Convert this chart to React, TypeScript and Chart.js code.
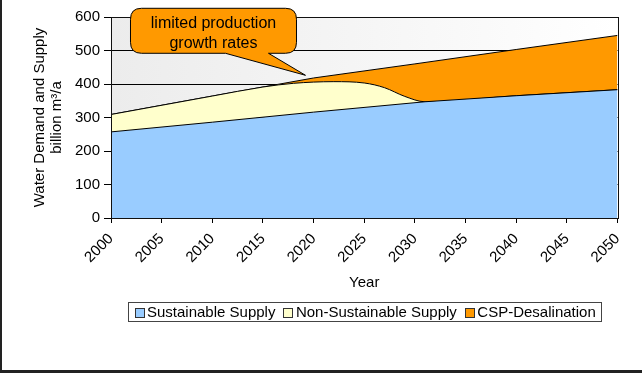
import { useEffect, useRef } from 'react';
import { Chart, registerables } from 'chart.js';

Chart.register(...registerables);

// Stacked supply scenario: each series is stored as the upper edge of its band.
const seriesLabels = ['Sustainable Supply', 'Non-Sustainable Supply', 'CSP-Desalination'];

const sustainableYears = [2000, 2010, 2020, 2031, 2040, 2050];
const sustainableTop = [257, 286, 316, 347, 365, 383];

const nonSustainableYears = [2000, 2010, 2015, 2018, 2022, 2025, 2027, 2029, 2031, 2040, 2050];
const nonSustainableTop = [309, 364, 391, 402, 407, 403, 389, 363, 347, 365, 383];

const demandYears = [2000, 2010, 2020, 2030, 2040, 2050];
const demandTop = [309, 364, 418, 460, 503, 545];

const yearRange = [2000, 2050];
const yearStep = 5;
const valueRange = [0, 600];
const valueStep = 100;

const calloutLines = ['limited production', 'growth rates'];
const calloutTip = { year: 2019.2, value: 426 };

const seriesColors = ['#99CCFF', '#FFFFCC', '#FF9900'];
const FONT = '"Liberation Sans", Arial, Helvetica, sans-serif';

function toPoints(xs: number[], ys: number[]) {
  return xs.map((x, i) => ({ x, y: ys[i] }));
}

const backgroundPlugin = {
  id: 'plotBackground',
  beforeDraw(chart: any) {
    const { ctx, chartArea: a, width, height } = chart;
    ctx.save();
    const g = ctx.createLinearGradient(a.left, a.top, a.right, a.top);
    g.addColorStop(0, '#ececec');
    g.addColorStop(1, '#ffffff');
    ctx.fillStyle = g;
    ctx.fillRect(a.left, a.top, a.right - a.left, a.bottom - a.top);
    // outer frame edges
    ctx.fillStyle = '#222';
    ctx.fillRect(0, 0, 2, height);
    ctx.fillRect(0, height - 3, width, 3);
    ctx.restore();
  },
};

const framePlugin = {
  id: 'plotFrame',
  afterDatasetsDraw(chart: any) {
    const { ctx, chartArea: a } = chart;
    ctx.save();
    ctx.strokeStyle = '#111';
    ctx.lineWidth = 1;
    ctx.strokeRect(
      Math.round(a.left) + 0.5,
      Math.round(a.top) + 0.5,
      Math.round(a.right) - Math.round(a.left),
      Math.round(a.bottom) - Math.round(a.top)
    );
    ctx.restore();
  },
};

const legendPlugin = {
  id: 'boxedLegend',
  afterDraw(chart: any) {
    const { ctx, chartArea: a } = chart;
    const datasets = chart.data.datasets;
    ctx.save();
    ctx.font = `15px ${FONT}`;
    const sq = 9;
    const textGap = 12.5;
    const itemGap = 8;
    const padX = 6;
    const widths = datasets.map((d: any) => ctx.measureText(d.label).width);
    const inner = widths.reduce((s: number, w: number) => s + w + textGap, 0) + itemGap * (datasets.length - 1);
    const boxW = inner + padX * 2;
    const cx = (a.left + a.right) / 2;
    const boxLeft = Math.round(cx - boxW / 2) + 0.5;
    const boxTop = 302.5;
    const boxH = 19;
    ctx.fillStyle = '#fff';
    ctx.fillRect(boxLeft, boxTop, boxW, boxH);
    ctx.strokeStyle = '#444';
    ctx.lineWidth = 1;
    ctx.strokeRect(boxLeft, boxTop, Math.round(boxW), boxH);
    let x = boxLeft + padX;
    const midY = boxTop + boxH / 2;
    datasets.forEach((d: any, i: number) => {
      const sx = Math.round(x) + 0.5;
      const sy = Math.round(midY - sq / 2) + 0.5;
      ctx.fillStyle = d.backgroundColor;
      ctx.fillRect(sx, sy, sq, sq);
      ctx.strokeStyle = '#333';
      ctx.strokeRect(sx, sy, sq, sq);
      ctx.fillStyle = '#000';
      ctx.textAlign = 'left';
      ctx.textBaseline = 'middle';
      ctx.fillText(d.label, x + textGap, midY + 0.5);
      x += textGap + widths[i] + itemGap;
    });
    ctx.restore();
  },
};

const calloutPlugin = {
  id: 'callout',
  afterDraw(chart: any) {
    const { ctx } = chart;
    const xs = chart.scales.x;
    const ys = chart.scales.y;
    const tx = xs.getPixelForValue(calloutTip.year);
    const ty = ys.getPixelForValue(calloutTip.value);
    const left = tx - 175;
    const right = tx - 9;
    const top = ty - 67;
    const bottom = ty - 22;
    const r = 11;
    const baseL = tx - 80;
    const baseR = tx - 37;
    ctx.save();
    ctx.beginPath();
    ctx.moveTo(left + r, top);
    ctx.lineTo(right - r, top);
    ctx.quadraticCurveTo(right, top, right, top + r);
    ctx.lineTo(right, bottom - r);
    ctx.quadraticCurveTo(right, bottom, right - r, bottom);
    ctx.lineTo(baseR, bottom);
    ctx.lineTo(tx, ty);
    ctx.lineTo(baseL, bottom);
    ctx.lineTo(left + r, bottom);
    ctx.quadraticCurveTo(left, bottom, left, bottom - r);
    ctx.lineTo(left, top + r);
    ctx.quadraticCurveTo(left, top, left + r, top);
    ctx.closePath();
    ctx.fillStyle = '#FF9900';
    ctx.fill();
    ctx.strokeStyle = '#000';
    ctx.lineWidth = 1;
    ctx.stroke();
    ctx.fillStyle = '#000';
    ctx.font = `16px ${FONT}`;
    ctx.textAlign = 'center';
    ctx.textBaseline = 'middle';
    const cx = (left + right) / 2;
    calloutLines.forEach((line, i) => {
      ctx.fillText(line, cx, top + 15 + i * 20);
    });
    ctx.restore();
  },
};

export default function App() {
  const canvasRef = useRef<HTMLCanvasElement | null>(null);

  useEffect(() => {
    document.body.style.margin = '0';
    const canvas = canvasRef.current;
    if (!canvas) return;

    const lineBase = {
      borderColor: '#000',
      borderWidth: 1,
      pointRadius: 0,
      pointHoverRadius: 0,
    };

    const chart = new Chart(canvas, {
      type: 'line',
      data: {
        datasets: [
          {
            ...lineBase,
            label: seriesLabels[0],
            data: toPoints(sustainableYears, sustainableTop),
            backgroundColor: seriesColors[0],
            fill: 'origin',
            tension: 0,
          },
          {
            ...lineBase,
            label: seriesLabels[1],
            data: toPoints(nonSustainableYears, nonSustainableTop),
            backgroundColor: seriesColors[1],
            fill: '-1',
            cubicInterpolationMode: 'monotone',
          },
          {
            ...lineBase,
            label: seriesLabels[2],
            data: toPoints(demandYears, demandTop),
            backgroundColor: seriesColors[2],
            fill: '-1',
            tension: 0,
          },
        ],
      },
      options: {
        responsive: false,
        animation: false,
        events: [],
        parsing: false as any,
        layout: { padding: { left: 0, top: 17, right: 24.5, bottom: 0 } },
        plugins: {
          legend: { display: false },
          tooltip: { enabled: false },
        },
        scales: {
          x: {
            type: 'linear',
            min: yearRange[0],
            max: yearRange[1],
            border: { display: false },
            grid: {
              drawOnChartArea: false,
              drawTicks: true,
              tickLength: 5,
              color: '#000',
            },
            ticks: {
              stepSize: yearStep,
              autoSkip: false,
              minRotation: 45,
              maxRotation: 45,
              padding: 7,
              color: '#000',
              font: { family: FONT, size: 15 },
              callback: (v: any) => String(v),
            },
            title: {
              display: true,
              text: 'Year',
              color: '#000',
              font: { family: FONT, size: 15, lineHeight: 1.15 },
              padding: { top: 0, bottom: 81.5 },
            },
            afterFit: (scale: any) => {
              scale.height = 155;
            },
          },
          y: {
            min: valueRange[0],
            max: valueRange[1],
            border: { display: false },
            grid: {
              color: '#000',
              lineWidth: 1,
              drawTicks: true,
              tickLength: 7,
            },
            ticks: {
              stepSize: valueStep,
              padding: 4,
              color: '#000',
              font: { family: FONT, size: 15 },
            },
            title: {
              display: true,
              text: ['Water Demand and Supply', 'billion m³/a'],
              color: '#000',
              font: { family: FONT, size: 15, lineHeight: 1.15 },
              padding: { top: 31.4, bottom: 0 },
            },
            afterFit: (scale: any) => {
              scale.width = 111;
            },
          },
        },
      },
      plugins: [backgroundPlugin, framePlugin, legendPlugin, calloutPlugin],
    } as any);

    return () => chart.destroy();
  }, []);

  return (
    <div style={{ width: 642, height: 373 }}>
      <canvas ref={canvasRef} width={642} height={373} style={{ display: 'block' }} />
    </div>
  );
}
